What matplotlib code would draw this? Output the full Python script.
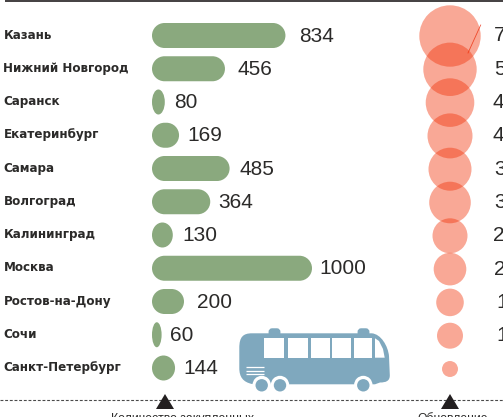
import numpy as np
import matplotlib
matplotlib.use("Agg")
import matplotlib.pyplot as plt
from matplotlib.path import Path
from matplotlib.font_manager import FontProperties
from matplotlib.patches import PathPatch, Polygon, Circle, FancyBboxPatch

cities = ["Казань", "Нижний Новгород", "Саранск", "Екатеринбург", "Самара", "Волгоград",
          "Калининград", "Москва", "Ростов-на-Дону", "Сочи", "Санкт-Петербург"]
bar_values = [834, 456, 80, 169, 485, 364, 130, 1000, 200, 60, 144]
bubble_values = [754, 570, 472, 405, 370, 346, 245, 213, 152, 135, 51]
bubble_labels = ["7", "5", "4", "4", "3", "3", "2", "2", "1", "1", ""]
value_gaps_px = [14, 13, 10, 9, 10, 9, 10, 8, 14, 9, 9]
bubble_label_x = [494, 494, 493, 493, 494, 494, 493, 494, 496, 496, 496]
bottom_left = "Количество закупленных"
bottom_right = "Обновление"

W, H = 503, 417
DPI = 100
SANS = ["Liberation Sans", "DejaVu Sans"]
INK = "#2b2a29"
GREEN = "#8aa97e"
BLUE = "#7fa8be"
LABEL_FONT = FontProperties(family="DejaVu Sans", stretch="condensed", weight="bold", size=9.5)

fig = plt.figure(figsize=(W / DPI, H / DPI), dpi=DPI, facecolor="white")

# page axes in pixel coordinates
page = fig.add_axes([0, 0, 1, 1], zorder=1)
page.set_xlim(0, W)
page.set_ylim(H, 0)
page.axis("off")

# bars: value scale horizontally, row index vertically
Y0, DY = 35.5, 33.25
BAR_X0, BAR_W = 152, 160
bars = fig.add_axes([BAR_X0 / W, 0, BAR_W / W, 1], zorder=2)
bars.set_xlim(0, 1000)
bars.set_ylim((H - Y0) / DY, -Y0 / DY)
bars.axis("off")
px = 1000 / BAR_W


def pill(ax, w, yc, h):
    rx = min(w / 2, 12.5 * px)
    ry = h / 2
    k = 0.5523
    v = [(rx, yc - ry), (w - rx, yc - ry),
         (w - rx + k * rx, yc - ry), (w, yc - k * ry), (w, yc),
         (w, yc + k * ry), (w - rx + k * rx, yc + ry), (w - rx, yc + ry),
         (rx, yc + ry),
         (rx - k * rx, yc + ry), (0, yc + k * ry), (0, yc),
         (0, yc - k * ry), (rx - k * rx, yc - ry), (rx, yc - ry)]
    c = [Path.MOVETO, Path.LINETO] + [Path.CURVE4] * 6 + [Path.LINETO] + [Path.CURVE4] * 6
    ax.add_patch(PathPatch(Path(v, c), fc=GREEN, ec="none", clip_on=False))


for i, (city, val, gap) in enumerate(zip(cities, bar_values, value_gaps_px)):
    pill(bars, val, i, 25 / DY)
    bars.text(val + (gap - 0.5) * px, i + 0.02, str(val), fontsize=15, color=INK, family=SANS,
              ha="left", va="center", clip_on=False)
    page.text(3.5, Y0 + DY * i - 0.5, city, fontproperties=LABEL_FONT, color=INK,
              ha="left", va="center")

# bubbles: area proportional to the value
bub = fig.add_axes([0, 0, 1, 1], zorder=3)
bub.set_xlim(0, W)
bub.set_ylim((H - 36) / 33.3, -36 / 33.3)
bub.axis("off")
bub.patch.set_alpha(0)
rows = np.arange(len(bubble_values))
k_r = 30.7 / np.sqrt(bubble_values[0])
sizes = (2 * k_r * np.sqrt(bubble_values) * 72 / DPI) ** 2
bub.scatter(np.full(len(rows), 450), rows, s=sizes, color="#f13005", alpha=0.42,
            linewidths=0, clip_on=False)
for r, lab, lx in zip(rows, bubble_labels, bubble_label_x):
    if lab:
        bub.text(lx, r, lab, fontsize=15, color=INK, family=SANS,
                 ha="left", va="center")

page.plot([480.7, 468], [25, 53], color="#ee5a45", lw=0.6, zorder=6)

# frame rule, dashed rule, markers
page.plot([5, W], [0.5, 0.5], color="#231f20", lw=1.2, solid_capstyle="butt")
page.plot([0, W], [400, 400], color="#4a4a4a", lw=0.8, dashes=(2.6, 1.6))
page.add_patch(Polygon([(165, 394), (156, 409), (174, 409)], fc="#231f20", ec="none", zorder=5))
page.add_patch(Polygon([(450, 394), (441, 409), (459, 409)], fc="#231f20", ec="none", zorder=5))
page.text(182.5, 422, bottom_left, fontsize=8.8, color=INK, family=SANS, ha="center", va="baseline")
page.text(453, 422, bottom_right, fontsize=8.7, color=INK, family=SANS, ha="center", va="baseline")

# bus pictogram
verts = [(239.3, 348), (239.3, 337), (243, 333.3), (252, 333.3),
         (371.7, 333.3),
         (381, 334), (388, 346), (389, 356),
         (389.8, 375),
         (390, 381), (386, 382.5), (380, 382.5),
         (375, 384.3), (260, 384.3),
         (252, 384),
         (243, 382), (239.3, 377), (239.3, 368),
         (239.3, 348)]
codes = [Path.MOVETO, Path.CURVE4, Path.CURVE4, Path.CURVE4,
         Path.LINETO,
         Path.CURVE4, Path.CURVE4, Path.CURVE4,
         Path.LINETO,
         Path.CURVE4, Path.CURVE4, Path.CURVE4,
         Path.LINETO, Path.LINETO,
         Path.LINETO,
         Path.CURVE4, Path.CURVE4, Path.CURVE4,
         Path.CLOSEPOLY]
page.add_patch(PathPatch(Path(verts, codes), fc=BLUE, ec="none", zorder=2))
for x0, x1 in [(268.3, 280.7), (357.3, 369.7)]:
    page.add_patch(FancyBboxPatch((x0 + 2, 330), x1 - x0 - 4, 5, boxstyle="round,pad=0,rounding_size=2",
                                  fc=BLUE, ec=BLUE, lw=2.5, zorder=2))
for x0, x1 in [(263.7, 284.3), (287.7, 308.3), (311.3, 329.7), (332.3, 351.3), (354, 372.3)]:
    page.add_patch(Polygon([(x0, 337.7), (x1, 337.7), (x1, 357.7), (x0, 357.7)], fc="white", ec="none", zorder=3))
page.add_patch(Polygon([(375, 338.3), (379, 341), (383, 349), (384.7, 357.7), (375, 357.7)],
                       fc="white", ec="none", zorder=3))
for y in (367.3, 371, 374.3):
    page.plot([246, 264.3], [y, y], color="white", lw=0.9, zorder=3, solid_capstyle="butt")
for cx in (261.7, 280, 363.3):
    page.add_patch(Circle((cx, 385), 9.2, fc="white", ec="none", zorder=3))
    page.add_patch(Circle((cx, 385.3), 6.2, fc=BLUE, ec="none", zorder=4))

fig.savefig("out.png", dpi=DPI, facecolor="white")
